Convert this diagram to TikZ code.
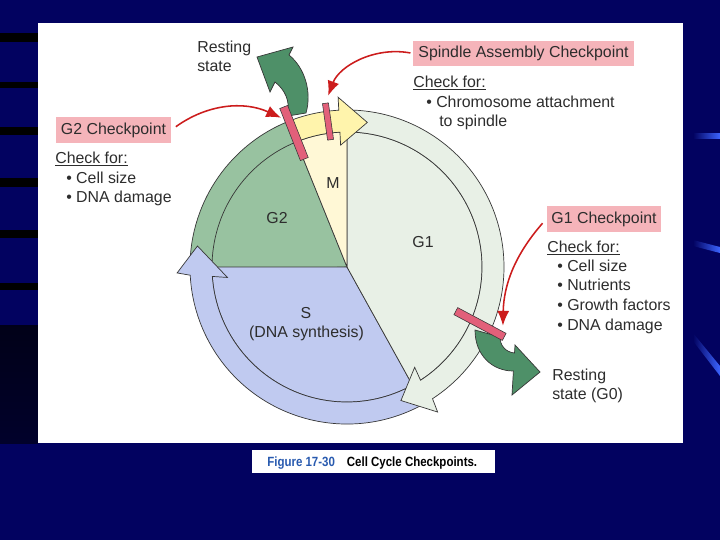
\documentclass[tikz,border=0pt]{standalone}
\usepackage{fontspec}
\setmainfont{Liberation Sans}
\newfontfamily\capfont[FakeStretch=0.86]{Liberation Sans}
\usetikzlibrary{arrows.meta,calc}
\definecolor{slidebg}{RGB}{2,2,96}
\definecolor{gtwo}{RGB}{152,194,160}
\definecolor{gone}{RGB}{232,240,230}
\definecolor{sphase}{RGB}{192,202,240}
\definecolor{mphase}{RGB}{255,248,214}
\definecolor{marrow}{RGB}{255,244,172}
\definecolor{restgreen}{RGB}{78,144,104}
\definecolor{barpink}{RGB}{226,96,122}
\definecolor{lblpink}{RGB}{245,180,186}
\definecolor{arrred}{RGB}{204,28,28}
\definecolor{txtgray}{RGB}{45,45,45}
\definecolor{linegray}{RGB}{55,55,55}
\definecolor{figblue}{RGB}{40,90,175}
\definecolor{dashblue}{RGB}{60,100,255}
\newcommand\mainsize{\fontsize{11.3}{13.5}\selectfont}

\begin{document}
\begin{tikzpicture}[x=0.025cm,y=-0.025cm,
  wheel/.style={draw=linegray,line width=0.5pt},
  restarrow/.style={draw=linegray,line width=0.5pt,fill=restgreen},
  chkbar/.style={draw=linegray,line width=0.4pt,fill=barpink,inner sep=0},
  chklabel/.style={fill=lblpink,text=txtgray,inner xsep=3.5pt,minimum height=0.64cm,font=\mainsize},
  txt/.style={anchor=base west,inner sep=0,text=txtgray,font=\mainsize},
  phase/.style={inner sep=0,text=txtgray,font=\mainsize},
  redarr/.style={draw=arrred,line width=1.1pt,-{Latex[length=10.5pt,width=8.5pt]}}]
	%%%%% SLIDE %%%%%
	\useasboundingbox (0,0) rectangle (720,540);
	\fill[slidebg] (0,0) rectangle (720,540);
	\fill[black] (0,33) rectangle (38,42);
	\fill[black] (0,82) rectangle (38,88);
	\fill[black] (0,127) rectangle (38,135);
	\fill[black] (0,178) rectangle (38,187);
	\fill[black] (0,230) rectangle (38,238);
	\fill[black] (0,283) rectangle (38,290);
	\shade[top color=black!75!slidebg,bottom color=black!55!slidebg] (0,325) rectangle (38,443);
	\shade[left color=slidebg,right color=dashblue] (693,133) rectangle (720,138);
	\shade[left color=slidebg,right color=dashblue] (693,240) -- (720,247) -- (720,253) -- (693,246) -- cycle;
	\shade[left color=slidebg,right color=dashblue] (693,333) -- (720,366) -- (720,376) -- (693,341) -- cycle;
	\fill[white] (38,23) rectangle (683,443);
	
	%%%%% WHEEL %%%%%
	\begin{scope}[shift={(347,267)},yscale=-1]
		\draw[wheel,fill=gtwo] (0,0) -- (112:157) arc (112:182:157) -- (182:135) -- (0,0) -- cycle;
		\draw[wheel,fill=sphase] (0,0) -- (180:135) arc (180:299:135) -- cycle;
		\draw[wheel,fill=gone] (0,0) -- (-61:135) arc (-61:90:135) -- cycle;
		\draw[wheel,fill=mphase] (0,0) -- (90:135) arc (90:112:135) -- cycle;
		\draw[wheel] (112:135) arc (112:180:135);
		% S arrow
		\draw[wheel,fill=sphase] (-60:157) arc (-60:-177:157) -- (-178:170) -- (-188:151) -- (-175:120) -- (-176:135) arc (-176:-60:135) -- cycle;
		% G1 arrow
		\draw[wheel,fill=gone] (93:157) arc (93:-57:157) -- (-58:171) -- (-68:144) -- (-56:121) -- (-57:135) arc (-57:93:135) -- cycle;
		% M arrow
		\draw[wheel,fill=marrow] (111:157) arc (111:93:157) -- (93:170) -- (82:146) -- (93:122) -- (93:135) arc (93:111:135) -- cycle;
	\end{scope}
	
	% resting state arrows
	\draw[restarrow] (288,116) .. controls (290,100) and (285,90) .. (275,82) -- (270,92) -- (257,57) -- (293,47) -- (289,55) .. controls (305,68) and (312,92) .. (306,113) -- cycle;
	\draw[restarrow] (475,330) .. controls (475,355) and (492,371) .. (513.4,371) -- (512,395) -- (540,372) -- (515,345) -- (514.5,353) .. controls (505,352) and (500,345) .. (500,337) -- cycle;
	
	% checkpoint bars
	\node[chkbar,minimum width=1.4cm,minimum height=0.21cm,rotate=111.6] (g2bar) at (294,133) {};
	\node[chkbar,minimum width=0.92cm,minimum height=0.15cm,rotate=98] (sacbar) at (328,121.5) {};
	\node[chkbar,minimum width=1.37cm,minimum height=0.2cm,rotate=-28] (g1bar) at (480,324) {};
	
	% phases
	\node[phase] (mlbl) at (333,183) {M};
	\node[phase] (g2lbl) at (277,218) {G2};
	\node[phase] (g1lbl) at (423,242.5) {G1};
	\node[phase] (slbl) at (306,313) {S};
	\node[phase] (dnalbl) at (306.5,333.5) {(DNA synthesis)};
	
	% labels
	\node[txt] (resttop1) at (197,52) {Resting};
	\node[txt] (resttop2) at (197,71) {state};
	
	\node[chklabel] (sacchk) at (523.5,53.5) {Spindle Assembly Checkpoint};
	\node[txt] (sachead) at (413,87) {\underline{Check for:}};
	\node[txt] (sacitem1) at (426,107) {\textbullet\ Chromosome attachment};
	\node[txt] (sacitem2) at (439,126.5) {to spindle};
	
	\node[chklabel] (g2chk) at (113.5,130) {G2 Checkpoint};
	\node[txt] (g2head) at (55,163.3) {\underline{Check for:}};
	\node[txt] (g2item1) at (66,183) {\textbullet\ Cell size};
	\node[txt] (g2item2) at (66,202) {\textbullet\ DNA damage};
	
	\node[chklabel] (g1chk) at (604,219) {G1 Checkpoint};
	\node[txt] (g1head) at (547,252.3) {\underline{Check for:}};
	\node[txt] (g1item1) at (557,271) {\textbullet\ Cell size};
	\node[txt] (g1item2) at (557,290.5) {\textbullet\ Nutrients};
	\node[txt] (g1item3) at (557,310) {\textbullet\ Growth factors};
	\node[txt] (g1item4) at (557,330) {\textbullet\ DNA damage};
	\node[txt] (restlow1) at (552,380) {Resting};
	\node[txt] (restlow2) at (552,399) {state (G0)};
	
	% red arrows
	\draw[redarr,shorten <=4pt,shorten >=2pt] (g2chk.east) to[bend left=30] ($(g2bar.north)!0.6!(g2bar.north east)$);
	\draw[redarr,shorten <=2pt,shorten >=5.5pt] (sacchk.west) to[bend right=40] (sacbar.east);
	\draw[redarr,shorten <=4pt,shorten >=4pt] (g1chk.west) to[bend right=20] ($(g1bar.north)!0.85!(g1bar.north east)$);
	
	%%%%% CAPTION %%%%%
	\fill[white] (252,450) rectangle (495,473);
	\node[anchor=base west,inner sep=0,font=\capfont\fontsize{9.5}{10}\selectfont\bfseries] (figcap) at (267,466.5) {\textcolor{figblue}{Figure 17-30}\hspace{8.5pt}Cell Cycle Checkpoints.};
\end{tikzpicture}
\end{document}
